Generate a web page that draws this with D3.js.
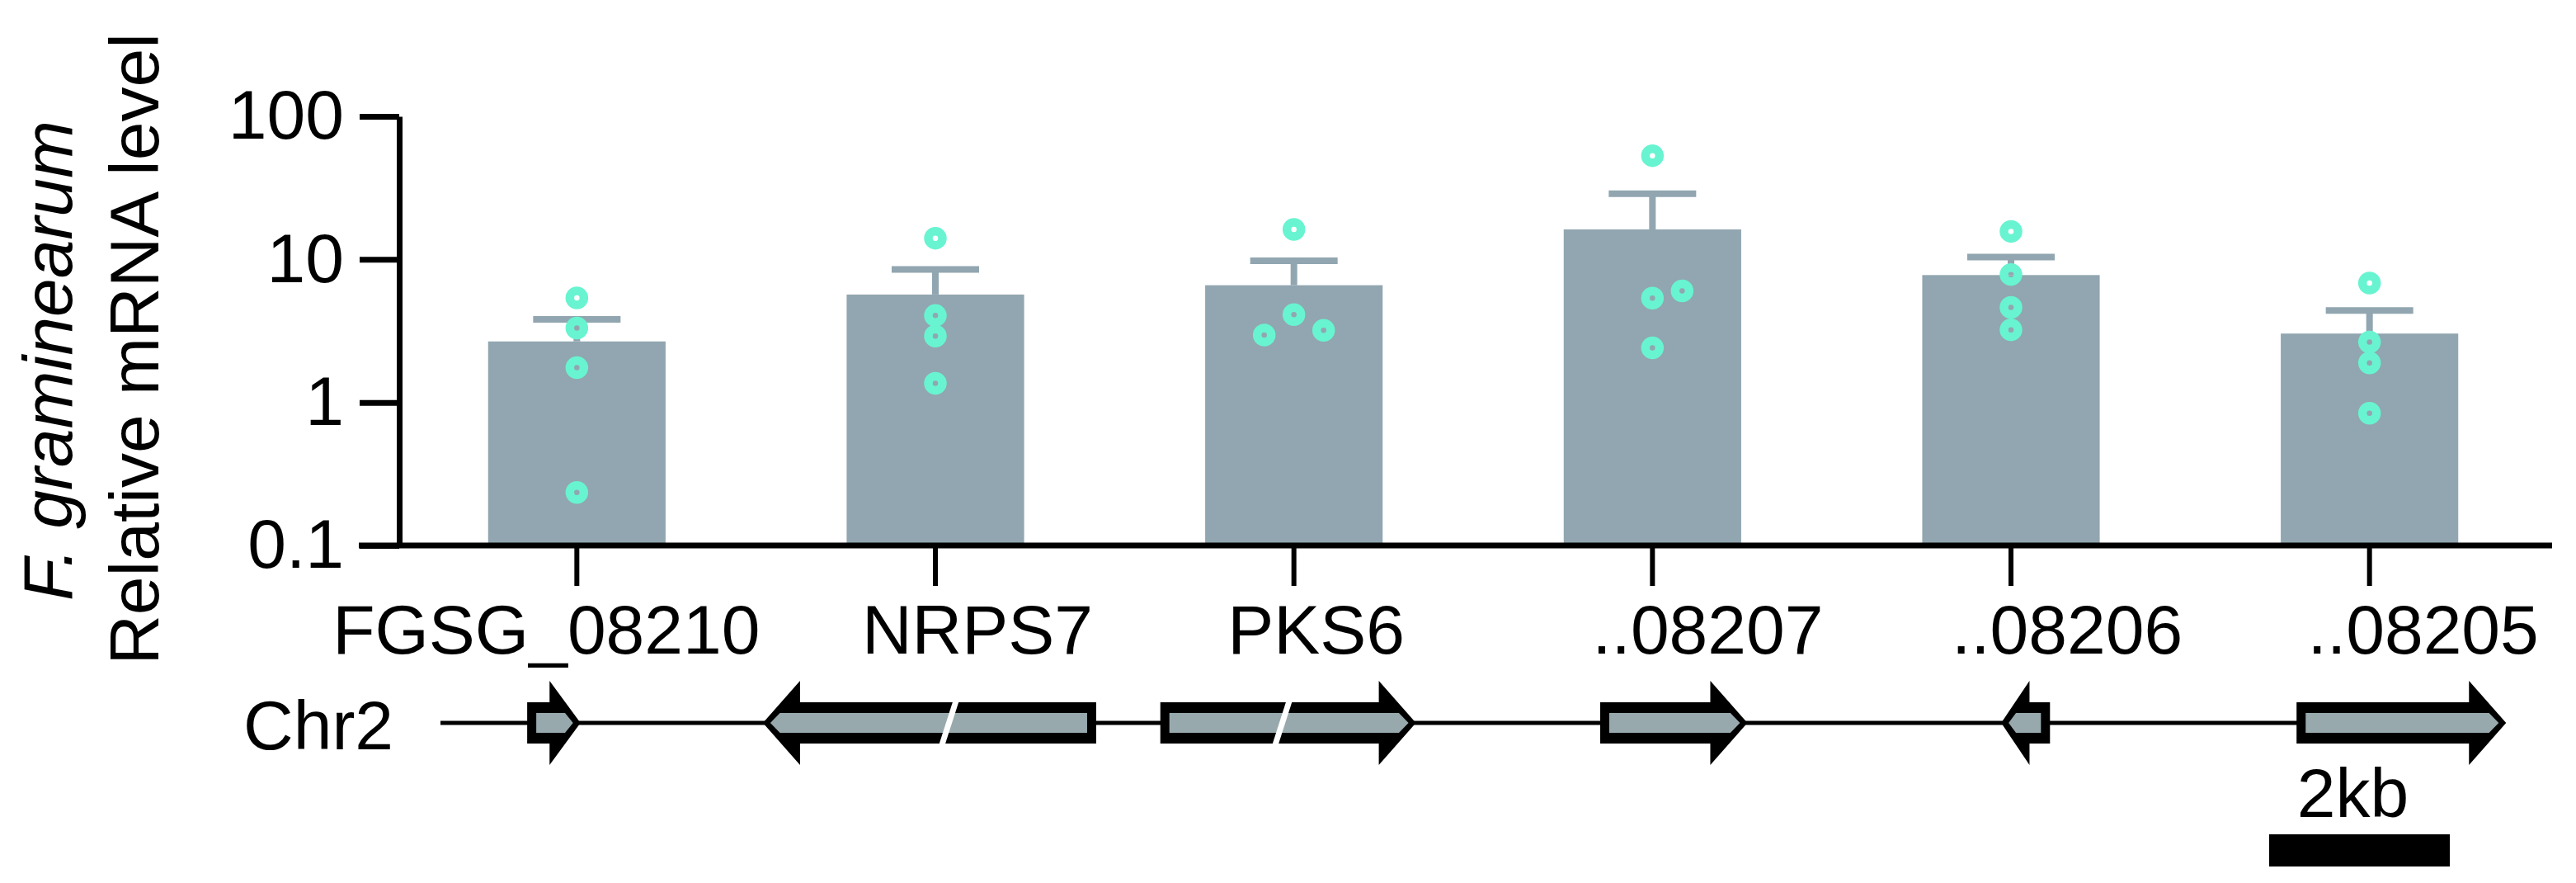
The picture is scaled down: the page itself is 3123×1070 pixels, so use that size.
<!DOCTYPE html>
<html>
<head>
<meta charset="utf-8">
<script src="https://cdn.jsdelivr.net/npm/d3@7"></script>
<style>
  html, body { margin: 0; padding: 0; background: #fff; }
  svg { display: block; font-family: "Liberation Sans", Arial, sans-serif; }
</style>
</head>
<body>
<script>
// ---------------- data ----------------
const categories = ["FGSG_08210", "NRPS7", "PKS6", "..08207", "..08206", "..08205"];
const means = [2.67, 5.68, 6.6, 16.2, 7.77, 3.03];
const sems  = [1.14, 2.82, 3.17, 12.6, 2.63, 1.36];
const points = [
  [5.38, 3.31, 1.75, 0.235],
  [14.07, 4.05, 2.91, 1.36],
  [16.2, 2.96, 4.11, 3.19],
  [53.1, 5.36, 6.02, 2.41],
  [15.7, 7.84, 4.62, 3.22],
  [6.84, 2.64, 1.89, 0.84]
];
const pointCols = [
  [0, 0, 0, 0],
  [0, 0, 0, 0],
  [0, -1, 0, 1],
  [0, 0, 1, 0],
  [0, 0, 0, 0],
  [0, 0, 0, 0]
];
const yTicks = [0.1, 1, 10, 100];

// gene map (kb along Chr2)
const geneStart  = [0.96, 3.57, 7.97, 12.84, 17.28, 20.55];
const geneEnd    = [1.55, 7.26, 10.80, 14.47, 17.82, 22.87];
const geneStrand = [1, -1, 1, 1, -1, 1];
const geneBreaks = [5.63, 9.32];
const chromEnd = 20.55;
const scaleBarKb = 2;

// ---------------- layout ----------------
const W = 3123, H = 1070;
const labelNudge = [-37, 51, 27, 67, 68, 65];
const barColor = "#91A6B0";
const dotColor = "#68F4D0";
const geneFill = "#97A9AD";
const FS = 84;

const svg = d3.select("body").append("svg")
  .attr("width", W).attr("height", H)
  .attr("viewBox", `0 0 ${W} ${H}`);
svg.append("rect").attr("width", W).attr("height", H).attr("fill", "#fff");

const x = d3.scaleBand().domain(categories).range([482, 3090])
  .paddingInner(0.505).paddingOuter(0.2525);
const y = d3.scaleLog().domain([0.1, 100]).range([661, 141]);
const jitter = 36;

// bars
svg.append("g").selectAll("rect").data(categories).join("rect")
  .attr("x", d => x(d))
  .attr("width", x.bandwidth())
  .attr("y", (d, i) => y(means[i]))
  .attr("height", (d, i) => y(0.1) - y(means[i]))
  .attr("fill", barColor);

// error bars (upper only)
const eb = svg.append("g").attr("stroke", barColor).attr("stroke-width", 8);
categories.forEach((c, i) => {
  const cx = x(c) + x.bandwidth() / 2;
  eb.append("line").attr("x1", cx).attr("x2", cx)
    .attr("y1", y(means[i])).attr("y2", y(means[i] + sems[i]));
  eb.append("line").attr("x1", cx - 53).attr("x2", cx + 53)
    .attr("y1", y(means[i] + sems[i])).attr("y2", y(means[i] + sems[i]));
});

// points
const pg = svg.append("g");
categories.forEach((c, i) => {
  const cx = x(c) + x.bandwidth() / 2;
  points[i].forEach((v, j) => {
    pg.append("circle")
      .attr("cx", cx + pointCols[i][j] * jitter)
      .attr("cy", y(v))
      .attr("r", 8.5)
      .attr("fill", "none")
      .attr("stroke", dotColor)
      .attr("stroke-width", 10.5);
  });
});

// y axis
const yAxis = svg.append("g").attr("transform", "translate(484,0)")
  .call(d3.axisLeft(y).tickValues(yTicks).tickFormat(d => String(d))
    .tickSize(48).tickSizeOuter(0).tickPadding(19));
yAxis.select(".domain").attr("stroke-width", 7);
yAxis.selectAll(".tick line").attr("stroke-width", 7);
yAxis.selectAll(".tick text").attr("font-size", FS).attr("fill", "#000")
  .attr("font-family", "Liberation Sans, Arial, sans-serif");

// x axis
const xAxis = svg.append("g").attr("transform", `translate(0,${y(0.1)})`)
  .call(d3.axisBottom(x).tickSize(49).tickSizeOuter(0).tickPadding(22));
xAxis.select(".domain").attr("d", "M435,0H3094").attr("stroke-width", 7);
xAxis.selectAll(".tick line").attr("stroke-width", 6);
xAxis.selectAll(".tick text").attr("font-size", FS).attr("fill", "#000")
  .attr("font-family", "Liberation Sans, Arial, sans-serif")
  .attr("dx", (d, i) => labelNudge[i]);

// y titles
svg.append("text")
  .attr("transform", "translate(192,423) rotate(-90)")
  .attr("text-anchor", "middle").attr("font-size", FS)
  .text("Relative mRNA level");
svg.append("text")
  .attr("transform", "translate(87,437) rotate(-90)")
  .attr("text-anchor", "middle").attr("font-size", FS)
  .attr("font-style", "italic")
  .text("F. graminearum");

// ---------------- gene map ----------------
const gx = d3.scaleLinear().domain([0, 1]).range([534, 534 + 109.5]);
const cy = 876;
const gm = svg.append("g");

gm.append("text").attr("x", 295).attr("y", 908).attr("font-size", FS).text("Chr2");
gm.append("line").attr("x1", gx(0)).attr("x2", gx(chromEnd) + 10)
  .attr("y1", cy).attr("y2", cy).attr("stroke", "#000").attr("stroke-width", 5);

const hbOut = 25, hbIn = 12, hh = 51;
geneStart.forEach((s, i) => {
  const a = gx(s), b = gx(geneEnd[i]);
  const len = b - a;
  const head = Math.min(45, 0.58 * len);
  const dir = geneStrand[i];
  const x0 = dir > 0 ? a : b;
  const f = v => x0 + dir * v; // v = distance from tail
  const L = len;
  const outer = [
    [f(0), cy - hbOut], [f(L - head), cy - hbOut], [f(L - head), cy - hh],
    [f(L), cy], [f(L - head), cy + hh], [f(L - head), cy + hbOut], [f(0), cy + hbOut]
  ];
  const tipIn = L - 9;
  const shoulder = tipIn - hbIn * (head / hh) * 1.1;
  const inner = [
    [f(11), cy - hbIn], [f(shoulder), cy - hbIn], [f(tipIn), cy],
    [f(shoulder), cy + hbIn], [f(11), cy + hbIn]
  ];
  gm.append("path").attr("d", d3.line()(outer) + "Z").attr("fill", "#000");
  gm.append("path").attr("d", d3.line()(inner) + "Z").attr("fill", geneFill);
});

// gene breaks
geneBreaks.forEach(k => {
  const bx = gx(k);
  gm.append("line").attr("x1", bx + 9).attr("y1", cy - hbOut - 3)
    .attr("x2", bx - 9).attr("y2", cy + hbOut + 3)
    .attr("stroke", "#fff").attr("stroke-width", 7);
});

// scale bar
const sbX = 2751;
const sbW = gx(scaleBarKb) - gx(0);
gm.append("rect").attr("x", sbX).attr("y", 1011).attr("width", sbW).attr("height", 39).attr("fill", "#000");
gm.append("text").attr("x", sbX + sbW / 2 - 8).attr("y", 990).attr("text-anchor", "middle")
  .attr("font-size", FS).text(scaleBarKb + "kb");
</script>
</body>
</html>
